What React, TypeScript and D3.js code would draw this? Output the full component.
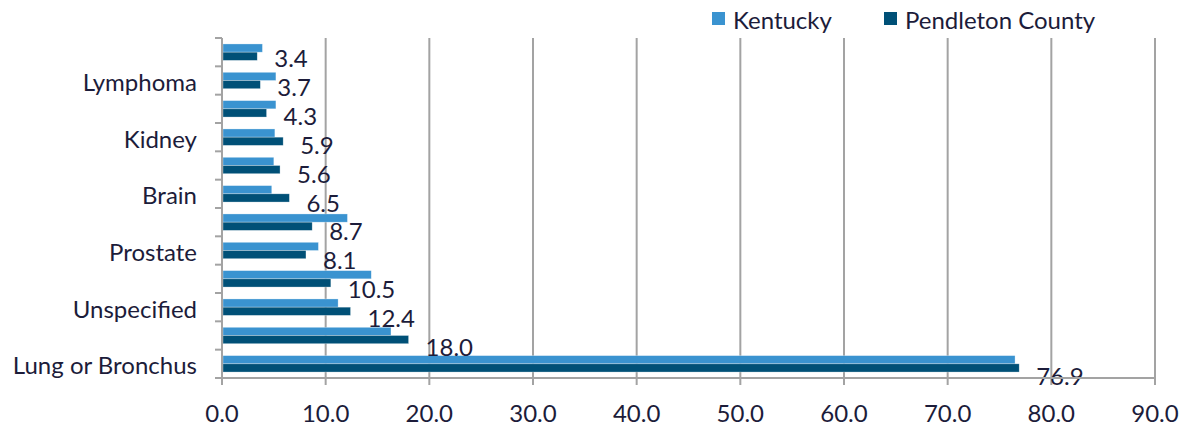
import React, { useEffect, useRef } from 'react';
import * as d3 from 'd3';

// top-down order, every other label is hidden (as in the source chart)
const categories = [
  'Bladder',
  'Lymphoma',
  'Leukemia',
  'Kidney',
  'Pancreas',
  'Brain',
  'Breast',
  'Prostate',
  'Colon or Rectum',
  'Unspecified',
  'Head and Neck',
  'Lung or Bronchus'
];
const kentucky = [3.9, 5.2, 5.2, 5.1, 5.0, 4.8, 12.1, 9.3, 14.4, 11.2, 16.3, 76.5];
const pendleton = [3.4, 3.7, 4.3, 5.9, 5.6, 6.5, 8.7, 8.1, 10.5, 12.4, 18.0, 76.9];
const seriesNames = ['Kentucky', 'Pendleton County'];
const xTicks = [0, 10, 20, 30, 40, 50, 60, 70, 80, 90];

const W = 1181;
const H = 427;
const FONT = 'Lato, "Open Sans", sans-serif';
const FS = 24;
const TEXT = '#1c1c3a';
const GRID = '#a3a3a3';
const colors = ['#3a93d0', '#005077'];

export default function App() {
  const ref = useRef<SVGSVGElement>(null);

  useEffect(() => {
    const svg = d3.select(ref.current);
    svg.selectAll('*').remove();
    const margin = { top: 38, right: 26, bottom: 49, left: 222 };
    const width = W - margin.left - margin.right;
    const height = H - margin.top - margin.bottom;

    const x = d3.scaleLinear().domain([0, 90]).range([0, width]);
    const y = d3.scaleBand().domain(categories).range([0, height]);
    const inner = d3
      .scaleBand()
      .domain(seriesNames)
      .range([y.bandwidth() * 0.21, y.bandwidth() * 0.79]);
    // data labels sit on a slightly stretched grid in the original
    const yLab = d3.scaleBand().domain(categories).range([5, height + 12]);

    const g = svg
      .append('g')
      .attr('transform', 'translate(' + margin.left + ',' + margin.top + ')');

    // vertical gridlines + ticks below the axis
    g.selectAll('.grid')
      .data(xTicks.slice(1))
      .enter()
      .append('line')
      .attr('x1', d => x(d))
      .attr('x2', d => x(d))
      .attr('y1', 0)
      .attr('y2', height + 7)
      .attr('stroke', GRID)
      .attr('stroke-width', 2);

    // category ticks on the left
    const bounds = categories.map(c => y(c) as number).concat([height]);
    g.selectAll('.ctick')
      .data(bounds)
      .enter()
      .append('line')
      .attr('x1', -7)
      .attr('x2', 0)
      .attr('y1', d => d)
      .attr('y2', d => d)
      .attr('stroke', GRID)
      .attr('stroke-width', 2);

    const rows = categories.map((c, i) => ({ c, i, vals: [kentucky[i], pendleton[i]] }));

    const row = g
      .selectAll('.row')
      .data(rows)
      .enter()
      .append('g')
      .attr('transform', d => 'translate(0,' + y(d.c) + ')');

    row
      .selectAll('rect')
      .data(d => d.vals.map((v, k) => ({ v, k })))
      .enter()
      .append('rect')
      .attr('x', 1)
      .attr('y', d => inner(seriesNames[d.k]) as number)
      .attr('width', d => x(d.v) - 1)
      .attr('height', inner.bandwidth())
      .attr('fill', d => colors[d.k])
      .attr('stroke', '#ffffff')
      .attr('stroke-opacity', 0.5)
      .attr('stroke-width', 0.6);

    // data labels (Pendleton County)
    g.selectAll('.lab')
      .data(rows)
      .enter()
      .append('text')
      .attr('x', d => x(pendleton[d.i]) + 17)
      .attr('y', d => (yLab(d.c) as number) + yLab.bandwidth() / 2)
      .attr('dominant-baseline', 'central')
      .attr('font-family', FONT)
      .attr('font-size', FS)
      .attr('fill', TEXT)
      .text(d => d3.format('.1f')(pendleton[d.i]));

    // axes lines
    g.append('line')
      .attr('x1', 0)
      .attr('x2', width)
      .attr('y1', height)
      .attr('y2', height)
      .attr('stroke', GRID)
      .attr('stroke-width', 2);
    g.append('line')
      .attr('x1', 0)
      .attr('x2', 0)
      .attr('y1', 0)
      .attr('y2', height + 7)
      .attr('stroke', GRID)
      .attr('stroke-width', 2);

    // x tick labels
    g.selectAll('.xl')
      .data(xTicks)
      .enter()
      .append('text')
      .attr('x', d => x(d))
      .attr('y', height + 44)
      .attr('text-anchor', 'middle')
      .attr('font-family', FONT)
      .attr('font-size', FS)
      .attr('fill', TEXT)
      .text(d => d3.format('.1f')(d));

    // category labels, every other one
    g.selectAll('.cl')
      .data(rows.filter(d => d.i % 2 === 1))
      .enter()
      .append('text')
      .attr('x', -25)
      .attr('y', d => (y(d.c) as number) + y.bandwidth() / 2 + 1)
      .attr('dominant-baseline', 'central')
      .attr('text-anchor', 'end')
      .attr('font-family', FONT)
      .attr('font-size', FS)
      .attr('fill', TEXT)
      .text(d => d.c);

    // legend
    const legX = [712, 884];
    const leg = svg
      .selectAll('.leg')
      .data(seriesNames)
      .enter()
      .append('g')
      .attr('transform', (d, i) => 'translate(' + legX[i] + ',12)');
    leg
      .append('rect')
      .attr('width', 13)
      .attr('height', 13)
      .attr('fill', (d, i) => colors[i]);
    leg
      .append('text')
      .attr('x', 21)
      .attr('y', 7)
      .attr('dominant-baseline', 'central')
      .attr('font-family', FONT)
      .attr('font-size', FS)
      .attr('fill', TEXT)
      .text(d => d);
  }, []);

  return (
    <svg
      ref={ref}
      width={W}
      height={H}
      style={{ position: 'absolute', left: 0, top: 0, background: '#fff' }}
    />
  );
}
